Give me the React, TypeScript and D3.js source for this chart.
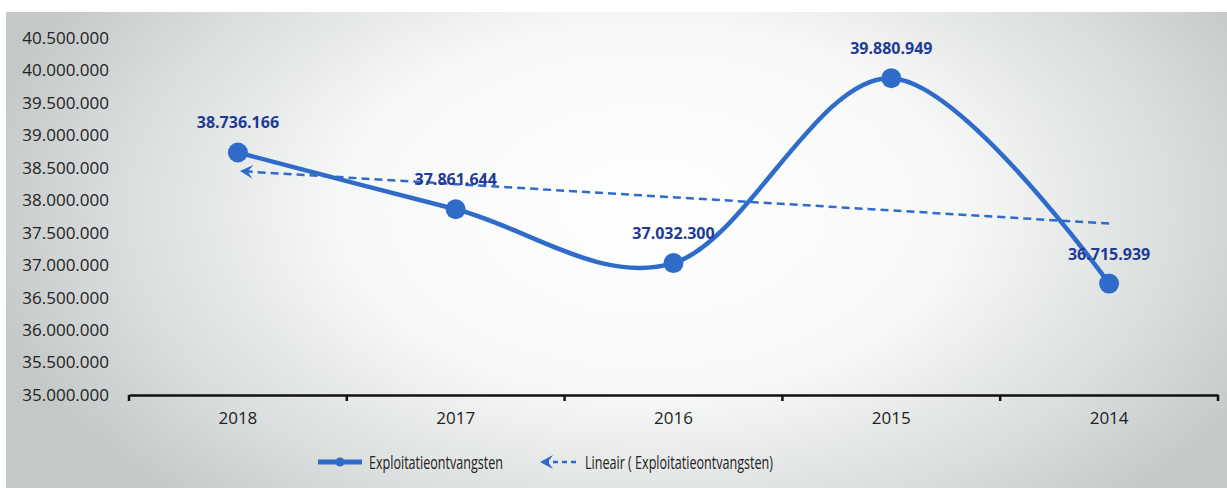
import { useEffect, useRef } from 'react';
import * as d3 from 'd3';

const years = ['2018', '2017', '2016', '2015', '2014'];
const revenues = [38736166, 37861644, 37032300, 39880949, 36715939];
const yTicks = [35000000, 35500000, 36000000, 36500000, 37000000, 37500000, 38000000, 38500000, 39000000, 39500000, 40000000, 40500000];
const seriesName = 'Exploitatieontvangsten';
const trendName = 'Lineair ( Exploitatieontvangsten)';

const W = 1227;
const H = 488;

const App = () => {
  const ref = useRef<SVGSVGElement>(null);

  useEffect(() => {
    const svg = d3.select(ref.current);
    svg.selectAll('*').remove();

    const blue = '#2f6bc9';
    const labelBlue = '#1f3a94';
    const font = '"Open Sans", sans-serif';

    const nl = d3.formatLocale({ decimal: ',', thousands: '.', grouping: [3], currency: ['€', ''] });
    const fmt = nl.format(',d');

    // scanned-page look: white strip on top, grey vignette
    const defs = svg.append('defs');
    const grad = defs.append('radialGradient')
      .attr('id', 'bg')
      .attr('gradientUnits', 'userSpaceOnUse')
      .attr('cx', 650).attr('cy', 210).attr('r', 680)
      .attr('gradientTransform', 'translate(650,210) scale(1,0.6) translate(-650,-210)');
    grad.append('stop').attr('offset', 0).attr('stop-color', '#ffffff');
    grad.append('stop').attr('offset', 0.45).attr('stop-color', '#f7f8f8');
    grad.append('stop').attr('offset', 0.78).attr('stop-color', '#dadddd');
    grad.append('stop').attr('offset', 1).attr('stop-color', '#c4c8c8');

    svg.append('rect').attr('width', W).attr('height', H).attr('fill', '#ffffff');
    svg.append('rect').attr('x', 6).attr('y', 12).attr('width', W - 6).attr('height', H - 12).attr('fill', 'url(#bg)');

    const x = d3.scaleBand().domain(years).range([129, 1218]);
    const y = d3.scaleLinear().domain([35000000, 40500000]).range([395, 38]);
    const cx = (d: string) => (x(d) || 0) + x.bandwidth() / 2;

    // y axis labels only
    const yAxis = svg.append('g')
      .attr('transform', 'translate(129,0)')
      .call(d3.axisLeft(y).tickValues(yTicks).tickFormat((d) => fmt(+d)).tickSize(0).tickPadding(20));
    yAxis.select('.domain').remove();
    yAxis.selectAll('text').attr('font-family', font).attr('font-size', 17).attr('fill', '#222');

    // x axis
    const xAxis = svg.append('g')
      .attr('transform', 'translate(0,395)')
      .call(d3.axisBottom(x).tickSize(0).tickPadding(17));
    xAxis.select('.domain').attr('stroke', '#111').attr('stroke-width', 2.5);
    xAxis.selectAll('text').attr('font-family', font).attr('font-size', 17).attr('fill', '#222');
    const bounds = years.map((d) => x(d) || 0).concat([x.range()[1]]);
    xAxis.selectAll('.bound')
      .data(bounds)
      .enter()
      .append('line')
      .attr('x1', (d) => d).attr('x2', (d) => d)
      .attr('y1', 0).attr('y2', 6)
      .attr('stroke', '#111').attr('stroke-width', 2.5);

    // trend line (least squares over the five points)
    const idx = revenues.map((_, i) => i + 1);
    const mx = d3.mean(idx) || 0;
    const my = d3.mean(revenues) || 0;
    const slope = d3.sum(idx, (v, i) => (v - mx) * (revenues[i] - my)) / d3.sum(idx, (v) => (v - mx) * (v - mx));
    const trend = (i: number) => my + slope * (i + 1 - mx);

    defs.append('marker')
      .attr('id', 'arrow')
      .attr('viewBox', '-1 -8 16 16')
      .attr('refX', 13).attr('refY', 0)
      .attr('markerWidth', 16).attr('markerHeight', 16)
      .attr('markerUnits', 'userSpaceOnUse')
      .attr('orient', 'auto')
      .append('path')
      .attr('d', 'M0,-7 L13,0 L0,7 L5,0 Z')
      .attr('fill', blue);

    const first = years[0];
    const last = years[years.length - 1];
    svg.append('line')
      .attr('x1', cx(last)).attr('y1', y(trend(years.length - 1)))
      .attr('x2', cx(first) + 2).attr('y2', y(trend(0)))
      .attr('stroke', blue).attr('stroke-width', 2.5)
      .attr('stroke-dasharray', '8 5')
      .attr('marker-end', 'url(#arrow)');

    // smoothed series
    const pts: [number, number][] = years.map((d, i) => [cx(d), y(revenues[i])]);
    const line = d3.line().curve(d3.curveCardinal.tension(0));
    svg.append('path')
      .attr('d', line(pts))
      .attr('fill', 'none')
      .attr('stroke', blue)
      .attr('stroke-width', 4.5);

    svg.selectAll('.pt')
      .data(pts)
      .enter()
      .append('circle')
      .attr('cx', (d) => d[0]).attr('cy', (d) => d[1])
      .attr('r', 10)
      .attr('fill', blue);

    svg.selectAll('.lbl')
      .data(revenues)
      .enter()
      .append('text')
      .attr('x', (_, i) => cx(years[i]))
      .attr('y', (d) => y(d) - 24)
      .attr('text-anchor', 'middle')
      .attr('font-family', font)
      .attr('font-size', 16)
      .attr('font-weight', 'bold')
      .attr('fill', labelBlue)
      .text((d) => fmt(d));

    // legend (text squeezed to the narrow look of the original)
    const lg = svg.append('g').attr('transform', 'translate(0,462)');
    lg.append('line').attr('x1', 318).attr('x2', 362).attr('stroke', blue).attr('stroke-width', 5);
    lg.append('circle').attr('cx', 340).attr('r', 4.5).attr('fill', blue);
    lg.append('text').attr('x', 369).attr('y', 7)
      .attr('font-family', font).attr('font-size', 18).attr('fill', '#222')
      .attr('textLength', 134).attr('lengthAdjust', 'spacingAndGlyphs')
      .text(seriesName);

    lg.append('line').attr('x1', 576).attr('x2', 540)
      .attr('stroke', blue).attr('stroke-width', 2.5).attr('stroke-dasharray', '5 4')
      .attr('marker-end', 'url(#arrow)');
    lg.append('text').attr('x', 585).attr('y', 7)
      .attr('font-family', font).attr('font-size', 18).attr('fill', '#222')
      .attr('textLength', 188).attr('lengthAdjust', 'spacingAndGlyphs')
      .text(trendName);
  }, []);

  return (
    <div style={{ position: 'absolute', left: 0, top: 0 }}>
      <svg ref={ref} width={W} height={H} style={{ display: 'block' }}></svg>
    </div>
  );
};

export default App;
